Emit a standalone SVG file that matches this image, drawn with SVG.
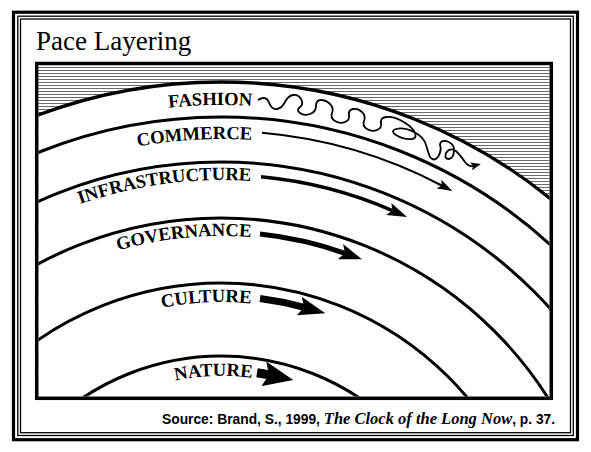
<svg xmlns="http://www.w3.org/2000/svg" width="591" height="452" viewBox="0 0 591 452">
<style>
.lbl{font-family:"Liberation Serif","Times New Roman",serif;font-weight:bold;font-size:18.6px;fill:#000}
.arc{fill:none;stroke:#000;stroke-width:3}
.arr{fill:none;stroke:#000;stroke-linecap:butt}
.src{font-family:"Liberation Sans",Arial,sans-serif;font-weight:bold;font-size:13.8px;fill:#000}
</style>
<defs>
<pattern id="hatch" patternUnits="userSpaceOnUse" width="10" height="3">
<rect width="10" height="3" fill="#fff"/>
<line x1="0" y1="1.5" x2="10" y2="1.5" stroke="#6a6a6a" stroke-width="1"/>
</pattern>
<clipPath id="panel"><rect x="38.5" y="65.3" width="511" height="331.2"/></clipPath>
<marker id="h0" markerUnits="userSpaceOnUse" markerWidth="10" markerHeight="8" viewBox="0 -4 10 8" refX="2" refY="0" orient="auto"><path d="M0,-4 L10,0 L0,4 L2,0 z"/></marker>
<marker id="h1" markerUnits="userSpaceOnUse" markerWidth="15" markerHeight="10" viewBox="0 -5 15 10" refX="3" refY="0" orient="auto"><path d="M0,-5 L15,0 L0,5 L3,0 z"/></marker>
<marker id="h2" markerUnits="userSpaceOnUse" markerWidth="20" markerHeight="13" viewBox="0 -6.5 20 13" refX="4" refY="0" orient="auto"><path d="M0,-6.5 L20,0 L0,6.5 L4,0 z"/></marker>
<marker id="h3" markerUnits="userSpaceOnUse" markerWidth="23" markerHeight="16" viewBox="0 -8 23 16" refX="5" refY="0" orient="auto"><path d="M0,-8 L23,0 L0,8 L5,0 z"/></marker>
<marker id="h4" markerUnits="userSpaceOnUse" markerWidth="27" markerHeight="19" viewBox="0 -9.5 27 19" refX="5" refY="0" orient="auto"><path d="M0,-9.5 L27,0 L0,9.5 L5,0 z"/></marker>
<marker id="h5" markerUnits="userSpaceOnUse" markerWidth="30" markerHeight="25" viewBox="0 -12.5 30 25" refX="5" refY="0" orient="auto"><path d="M0,-12.5 L30,0 L0,12.5 L5,0 z"/></marker>
<path id="p-fashion" d="M60,131.6 A500,500 0 0 1 252,105.9"/>
<path id="p-commerce" d="M40,175.6 A466,466 0 0 1 252,140"/>
<path id="p-infra" d="M40,220.5 A425,425 0 0 1 251,181.1"/>
<path id="p-gov" d="M40,283.4 A369,369 0 0 1 251,237.2"/>
<path id="p-culture" d="M60,348.3 A303,303 0 0 1 251,303.5"/>
<path id="p-nature" d="M60,442.2 A229,229 0 0 1 252,378"/>
</defs>
<rect width="591" height="452" fill="#fff"/>
<g id="frame" fill="none" stroke="#000">
<rect x="13.5" y="12.2" width="564" height="427.5" stroke-width="3.2"/>
<rect x="17.8" y="16.2" width="555.5" height="419.3" stroke-width="1.3"/>
<rect x="20.5" y="19" width="550" height="413.7" stroke-width="1.3"/>
</g>
<text id="title" x="36" y="50" font-family="'Liberation Serif','Times New Roman',serif" font-size="27">Pace Layering</text>
<g id="bands" clip-path="url(#panel)">
<rect x="36" y="63" width="516" height="336" fill="url(#hatch)"/>
<circle cx="221" cy="605" r="523" fill="#fff" stroke="#000" stroke-width="3.3"/>
<circle class="arc" cx="221" cy="605" r="488"/>
<circle class="arc" cx="221" cy="605" r="443"/>
<circle class="arc" cx="221" cy="605" r="387"/>
<circle class="arc" cx="221" cy="605" r="322"/>
<circle class="arc" cx="221" cy="605" r="249"/>
</g>
<rect id="panel-border" x="36.7" y="63.5" width="514.6" height="334.8" fill="none" stroke="#000" stroke-width="3.5"/>
<g id="layer-fashion"><text class="lbl"><textPath href="#p-fashion" startOffset="100%" text-anchor="end">FASHION</textPath></text></g>
<g id="layer-commerce"><text class="lbl"><textPath href="#p-commerce" startOffset="100%" text-anchor="end">COMMERCE</textPath></text></g>
<g id="layer-infrastructure"><text class="lbl"><textPath href="#p-infra" startOffset="100%" text-anchor="end">INFRASTRUCTURE</textPath></text></g>
<g id="layer-governance"><text class="lbl"><textPath href="#p-gov" startOffset="100%" text-anchor="end">GOVERNANCE</textPath></text></g>
<g id="layer-culture"><text class="lbl"><textPath href="#p-culture" startOffset="100%" text-anchor="end">CULTURE</textPath></text></g>
<g id="layer-nature"><text class="lbl"><textPath href="#p-nature" startOffset="100%" text-anchor="end">NATURE</textPath></text></g>
<g id="connectors">
<path class="arr" stroke-width="1.8" marker-end="url(#h0)" d="M258,100 Q266,95 269,102.5 Q272,110 277,109 Q282,108 285,102 Q288,96 293,95 Q298,94 301,99 Q304,104 300,107 Q296,110 300,113 Q304,116 310,114 Q316,112 316,106 Q316,100 321,100 Q326,100 330,104 Q334,108 332,113 Q330,118 335,121 Q340,124 345,122 Q350,120 349,115 Q348,110 353,109 Q358,108 362,112 Q366,116 364,121 Q362,126 367,129 Q372,132 377,130 Q382,128 381,123 Q380,118 386,117 Q392,116 400,120 Q410,125 414,131 Q418,138 412,139 Q404,140 396,135 Q390,131 396,129 Q404,127 414,132 Q424,137 426,145 Q428,152 430,157 Q434,162 438,157 Q442,150 440,145 Q440,140 446,141 Q454,143 454,150 Q454,158 449,159 Q444,159 446,153 Q450,147 456,151 Q462,157 465,162 Q469,167 473,166"/>
<path class="arr" stroke-width="2" marker-end="url(#h1)" d="M262,132.8 A474,474 0 0 1 441.7,185.5"/>
<path class="arr" stroke-width="3.5" marker-end="url(#h2)" d="M261,176.8 A430,430 0 0 1 392.4,210.6"/>
<path class="arr" stroke-width="5" marker-end="url(#h3)" d="M260,234 A373,373 0 0 1 345.1,253.3"/>
<path class="arr" stroke-width="7" marker-end="url(#h4)" d="M260,298.5 A309,309 0 0 1 304.1,307.4"/>
<path class="arr" stroke-width="9" marker-end="url(#h5)" d="M257,372.8 A235,235 0 0 1 268.8,374.9"/>
</g>
<text id="source" class="src" x="162" y="424">Source: Brand, S., 1999, <tspan font-family="'Liberation Serif','Times New Roman',serif" font-style="italic" font-size="16.5">The Clock of the Long Now</tspan>, p. 37.</text>
</svg>
